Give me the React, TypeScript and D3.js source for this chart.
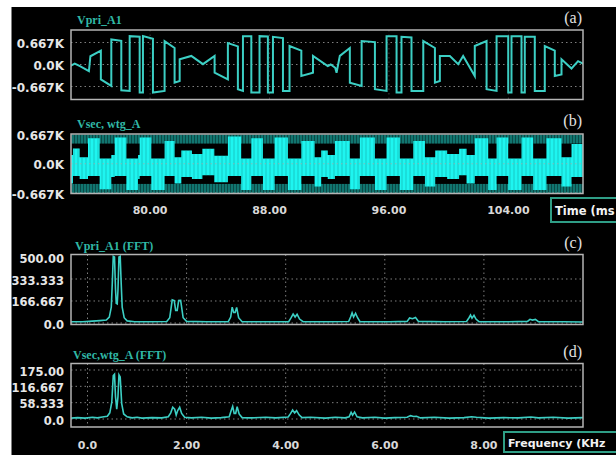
import * as d3 from "d3";

// ---- axis ticks ----
const timeTicks = [80, 88, 96, 104];
const timeTickLabels = ["80.00", "88.00", "96.00", "104.00"];
const freqTicks = [0, 2, 4, 6, 8];
const freqTickLabels = ["0.0", "2.00", "4.00", "6.00", "8.00"];
const voltTicks = [0.667, 0, -0.667];
const voltTickLabels = ["0.667K", "0.0K", "-0.667K"];
const fftPriTicks = [500, 333.333, 166.667, 0];
const fftPriTickLabels = ["500.00", "333.333", "166.667", "0.0"];
const fftSecTicks = [175, 116.667, 58.333, 0];
const fftSecTickLabels = ["175.00", "116.667", "58.333", "0.0"];

// ---- (a) Vpri_A1, [time ms, kV] ----
const vpriA1: [number, number][] = [
  [74.5, -0.08], [74.95, 0.03], [75.3, -0.05], [75.9, -0.2], [76.0, 0.25], [76.7, 0.42], [76.7, -0.45],
  [77.4, -0.65], [77.4, 0.76], [78.07, 0.72], [78.07, -0.78], [78.63, -0.8], [78.63, 0.86], [79.3, 0.84],
  [79.3, -0.85], [79.52, -0.85], [79.52, 0.86], [80.19, 0.78], [80.19, -0.85], [80.97, -0.8], [80.97, 0.71],
  [81.64, 0.5], [81.64, -0.55], [81.98, -0.5], [81.98, 0.16], [82.76, 0.26], [83.54, 0.01], [84.32, 0.26],
  [84.32, -0.25], [85.21, -0.45], [85.21, 0.65], [85.88, 0.55], [85.88, -0.75], [86.22, -0.8], [86.22, 0.86],
  [86.78, 0.86], [86.78, -0.85], [87.33, -0.85], [87.33, 0.86], [87.89, 0.85], [87.89, -0.85], [88.23, -0.85],
  [88.23, 0.84], [88.9, 0.8], [88.9, -0.8], [89.34, -0.8], [89.34, 0.56], [90.13, 0.42], [90.13, -0.35],
  [90.91, -0.25], [90.91, 0.26], [91.9, -0.05], [92.1, 0.0], [92.4, -0.1], [92.49, -0.25], [92.71, 0.26],
  [93.38, 0.5], [93.38, -0.55], [94.17, -0.65], [94.17, 0.71], [95.06, 0.68], [95.06, -0.75], [95.84, -0.8],
  [95.84, 0.86], [96.51, 0.86], [96.51, -0.85], [96.84, -0.85], [96.84, 0.84], [97.51, 0.82], [97.51, -0.8],
  [98.3, -0.8], [98.3, 0.71], [99.08, 0.5], [99.08, -0.55], [99.41, -0.5], [99.41, 0.26], [100.08, 0.26],
  [100.64, 0.01], [100.97, 0.26], [101.75, -0.35], [101.75, 0.56], [102.54, 0.71], [102.54, -0.75],
  [103.21, -0.8], [103.21, 0.86], [103.99, 0.86], [103.99, -0.85], [104.21, -0.85], [104.21, 0.86],
  [104.88, 0.86], [104.88, -0.85], [105.1, -0.85], [105.1, 0.84], [105.77, 0.84], [105.77, -0.8],
  [106.44, -0.8], [106.44, 0.56], [107.11, 0.42], [107.11, -0.35], [107.56, -0.3], [107.56, 0.16],
  [108.23, -0.12], [108.67, 0.1], [109.12, 0.0],
];

// ---- (b) Vsec, wtg_A envelope (step edges in ms, top / bottom in kV) ----
const vsecEdges = [
  74.5, 74.83, 75.28, 75.84, 76.62, 77.4, 77.63, 78.41, 79.19, 79.3, 80.08, 80.97, 81.64, 82.09, 82.8,
  83.5, 84.3, 85.21, 86.1, 86.78, 87.56, 88.34, 89.23, 90.13, 91.02, 91.46, 91.9, 92.38, 93.38, 94.05,
  95.06, 95.84, 96.73, 97.63, 98.41, 99.1, 99.9, 100.7, 101.2, 101.75, 102.65, 103.21, 103.99, 104.88,
  105.66, 106.55, 107.56, 108.23, 109.12,
];
const vsecTop = [
  0.2, 0.35, 0.15, 0.58, 0.12, 0.2, 0.6, 0.12, 0.2, 0.6, 0.12, 0.52, 0.15, 0.3, 0.22,
  0.34, 0.18, 0.62, 0.12, 0.58, 0.12, 0.6, 0.12, 0.52, 0.15, 0.3, 0.2, 0.52, 0.12, 0.6,
  0.12, 0.6, 0.12, 0.52, 0.15, 0.3, 0.22, 0.34, 0.2, 0.58, 0.12, 0.6, 0.12, 0.6,
  0.12, 0.58, 0.15, 0.45, 0.45,
];
const vsecBottom = [
  -0.45, -0.28, -0.35, -0.28, -0.58, -0.3, -0.28, -0.6, -0.35, -0.28, -0.6, -0.28, -0.45, -0.3, -0.35,
  -0.26, -0.42, -0.28, -0.6, -0.28, -0.6, -0.28, -0.6, -0.28, -0.52, -0.3, -0.35, -0.28, -0.58, -0.28,
  -0.6, -0.28, -0.6, -0.28, -0.52, -0.3, -0.35, -0.26, -0.45, -0.28, -0.6, -0.28, -0.6, -0.28,
  -0.6, -0.28, -0.52, -0.3, -0.3,
];

// ---- (c) Vpri_A1 (FFT), [kHz, magnitude] ----
const fftPri: [number, number][] = [
  [-0.34, 9], [-0.1, 10], [0.1, 14], [0.25, 18], [0.38, 22], [0.44, 45], [0.48, 120], [0.5, 300],
  [0.52, 505], [0.545, 500], [0.565, 260], [0.58, 150], [0.6, 145], [0.615, 250], [0.635, 500],
  [0.66, 505], [0.68, 300], [0.7, 120], [0.74, 40], [0.8, 16], [0.95, 10], [1.3, 9], [1.6, 11],
  [1.66, 40], [1.71, 175], [1.75, 170], [1.78, 95], [1.81, 95], [1.84, 170], [1.88, 172], [1.93, 40],
  [2.0, 12], [2.4, 9], [2.84, 10], [2.89, 45], [2.92, 120], [2.95, 80], [2.98, 80], [3.01, 118],
  [3.05, 40], [3.12, 10], [3.6, 9], [4.06, 10], [4.11, 40], [4.15, 68], [4.19, 45], [4.23, 66],
  [4.28, 30], [4.35, 10], [4.9, 9], [5.27, 11], [5.31, 45], [5.34, 76], [5.37, 45], [5.41, 74],
  [5.45, 40], [5.5, 10], [6.1, 9], [6.45, 12], [6.5, 38], [6.56, 32], [6.62, 42], [6.68, 12], [7.2, 9],
  [7.65, 11], [7.7, 40], [7.73, 60], [7.76, 36], [7.8, 58], [7.84, 30], [7.9, 10], [8.5, 9], [8.88, 12],
  [8.93, 28], [8.98, 22], [9.04, 27], [9.1, 10], [9.6, 9], [10.0, 8],
];

// ---- (d) Vsec,wtg_A (FFT), [kHz, magnitude] ----
const fftSec: [number, number][] = [
  [-0.34, 3], [-0.2, 5], [-0.05, 3], [0.1, 6], [0.2, 4], [0.3, 7], [0.4, 10], [0.45, 22], [0.49, 60],
  [0.52, 155], [0.545, 160], [0.565, 80], [0.59, 35], [0.615, 80], [0.635, 158], [0.66, 150], [0.69, 55],
  [0.73, 18], [0.8, 8], [0.9, 4], [1.0, 6], [1.1, 3], [1.3, 5], [1.5, 4], [1.63, 8], [1.68, 22],
  [1.72, 42], [1.76, 35], [1.79, 14], [1.82, 30], [1.86, 42], [1.9, 20], [1.96, 6], [2.1, 4], [2.3, 6],
  [2.5, 3], [2.7, 5], [2.86, 8], [2.9, 30], [2.93, 45], [2.96, 20], [2.99, 20], [3.02, 44], [3.06, 18],
  [3.12, 5], [3.3, 4], [3.6, 6], [3.8, 4], [4.05, 7], [4.1, 20], [4.14, 32], [4.18, 22], [4.22, 30],
  [4.27, 15], [4.33, 5], [4.5, 6], [4.8, 3], [5.0, 6], [5.2, 4], [5.28, 8], [5.32, 24], [5.35, 14],
  [5.39, 25], [5.44, 8], [5.55, 4], [5.8, 6], [6.0, 3], [6.2, 5], [6.45, 6], [6.52, 12], [6.58, 9],
  [6.64, 10], [6.72, 4], [7.0, 6], [7.3, 3], [7.6, 5], [7.75, 8], [7.85, 6], [8.1, 3], [8.4, 5],
  [8.7, 4], [8.95, 7], [9.1, 4], [9.4, 6], [9.7, 3], [10.0, 5],
];

// ---- layout ----
const W = 616;
const H = 455;
const X0 = 71;
const X1 = 583;

const xTime = d3.scaleLinear().domain([74.7, 109.0]).range([X0, X1]);
const xFreq = d3.scaleLinear().domain([-0.333, 10.0]).range([X0, X1]);

const yA = d3.scaleLinear().domain([-0.667, 0.667]).range([86.5, 42.5]);
const yB = d3.scaleLinear().domain([-0.667, 0.667]).range([193, 134.5]);
const yC = d3.scaleLinear().domain([0, 500]).range([323, 257]);
const yD = d3.scaleLinear().domain([0, 175]).range([419, 370]);

const frames = [
  { id: "a", top: 30, bottom: 99.5 },
  { id: "b", top: 134, bottom: 193.5 },
  { id: "c", top: 254.5, bottom: 324.5 },
  { id: "d", top: 363.5, bottom: 427 },
];

const FRAME = "#b4b4b4";
const GRID = "#a8a8a8";
const TRACE = "#3ccfc4";
const CYAN = "#1ef5f0";
const TITLE = "#30b8a6";
const LABEL = "#e6e6e6";
const labelFont = "'DejaVu Sans', sans-serif";
const titleFont = "'Liberation Serif', serif";

const YLabels = ({ ticks, labels, y, size }: { ticks: number[]; labels: string[]; y: (v: number) => number; size: number }) => (
  <g fontFamily={labelFont} fontWeight="bold" fontSize={size} fill={LABEL} textAnchor="end">
    {ticks.map((t, i) => (
      <text key={i} x={64} y={y(t) + 1.5} dominantBaseline="central">
        {labels[i]}
      </text>
    ))}
  </g>
);

const HGrid = ({ ticks, y, top }: { ticks: number[]; y: (v: number) => number; top: number }) => (
  <g stroke={GRID} strokeWidth={1} strokeDasharray="1.5 3" opacity={0.75}>
    {ticks
      .filter((t) => Math.abs(y(t) - top) > 3)
      .map((t, i) => (
        <line key={i} x1={X0} x2={X1} y1={y(t)} y2={y(t)} />
      ))}
  </g>
);

const VGrid = ({ ticks, x, top, bottom, opacity }: { ticks: number[]; x: (v: number) => number; top: number; bottom: number; opacity: number }) => (
  <g stroke={GRID} strokeWidth={1} strokeDasharray="1.5 3" opacity={opacity}>
    {ticks.map((t, i) => (
      <line key={i} x1={x(t)} x2={x(t)} y1={top} y2={bottom} />
    ))}
  </g>
);

export default function App() {
  const lineA = d3
    .line<[number, number]>()
    .x((d) => xTime(d[0]))
    .y((d) => yA(d[1]));

  const areaB = d3
    .area<number>()
    .x((t) => xTime(t))
    .y0((_, i) => yB(vsecBottom[i]))
    .y1((_, i) => yB(vsecTop[i]))
    .curve(d3.curveStepAfter);

  const lineC = d3
    .line<[number, number]>()
    .x((d) => xFreq(d[0]))
    .y((d) => yC(d[1]));

  const lineD = d3
    .line<[number, number]>()
    .x((d) => xFreq(d[0]))
    .y((d) => yD(d[1]));

  const [fa, fb, fc, fd] = frames;

  return (
    <svg
      width={W}
      height={H}
      viewBox={`0 0 ${W} ${H}`}
      style={{ position: "absolute", left: 0, top: 0, display: "block" }}
    >
      <defs>
        {frames.map((f) => (
          <clipPath key={f.id} id={`clip-${f.id}`}>
            <rect x={X0} y={f.top} width={X1 - X0} height={f.bottom - f.top} />
          </clipPath>
        ))}
        <pattern id="hair" width={3} height={6} patternUnits="userSpaceOnUse">
          <rect width={3} height={6} fill="#0a4a47" />
          <line x1={1} x2={1} y1={0} y2={6} stroke="#1aa9a2" strokeWidth={0.9} />
        </pattern>
        <pattern id="streak" width={4} height={6} patternUnits="userSpaceOnUse">
          <line x1={2} x2={2} y1={0} y2={6} stroke="#0c8f8a" strokeWidth={0.8} opacity={0.55} />
        </pattern>
      </defs>

      <rect width={W} height={H} fill="#ffffff" />
      <rect x={11.5} y={7} width={W - 11.5} height={H - 7} fill="#000000" />

      {/* (a) */}
      <VGrid ticks={timeTicks} x={xTime} top={fa.top} bottom={fa.bottom} opacity={0.35} />
      <HGrid ticks={voltTicks} y={yA} top={fa.top} />
      <path d={lineA(vpriA1) ?? ""} fill="none" stroke={TRACE} strokeWidth={2} clipPath="url(#clip-a)" />
      <YLabels ticks={voltTicks} labels={voltTickLabels} y={yA} size={12} />

      {/* (b) */}
      <g clipPath="url(#clip-b)">
        <rect x={X0} y={yB(0.667)} width={X1 - X0} height={yB(0.46) - yB(0.667)} fill="url(#hair)" />
        <rect x={X0} y={yB(-0.46)} width={X1 - X0} height={yB(-0.667) - yB(-0.46)} fill="url(#hair)" />
        <path d={areaB(vsecEdges) ?? ""} fill={CYAN} />
        <path d={areaB(vsecEdges) ?? ""} fill="url(#streak)" />
      </g>
      <HGrid ticks={voltTicks} y={yB} top={fb.top} />
      <YLabels ticks={voltTicks} labels={voltTickLabels} y={yB} size={12} />
      <g fontFamily={labelFont} fontWeight="bold" fontSize={11} fill="#d8d8d8" textAnchor="middle">
        {timeTicks.map((t, i) => (
          <text key={i} x={xTime(t)} y={214}>
            {timeTickLabels[i]}
          </text>
        ))}
      </g>
      <rect x={551} y={198} width={80} height={24} fill="#000" stroke="#2f9e86" strokeWidth={2} />
      <text x={555} y={215} fontFamily={labelFont} fontWeight="bold" fontSize={11.5} fill="#f2f2f2">
        Time (ms
      </text>

      {/* (c) */}
      <VGrid ticks={freqTicks} x={xFreq} top={fc.top} bottom={fc.bottom} opacity={0.75} />
      <HGrid ticks={fftPriTicks} y={yC} top={fc.top} />
      <path d={lineC(fftPri) ?? ""} fill="none" stroke={TRACE} strokeWidth={1.6} clipPath="url(#clip-c)" />
      <YLabels ticks={fftPriTicks} labels={fftPriTickLabels} y={yC} size={11.5} />

      {/* (d) */}
      <VGrid ticks={freqTicks} x={xFreq} top={fd.top} bottom={fd.bottom} opacity={0.75} />
      <HGrid ticks={fftSecTicks} y={yD} top={fd.top} />
      <path d={lineD(fftSec) ?? ""} fill="none" stroke={TRACE} strokeWidth={1.6} clipPath="url(#clip-d)" />
      <YLabels ticks={fftSecTicks} labels={fftSecTickLabels} y={yD} size={11.5} />
      <g fontFamily={labelFont} fontWeight="bold" fontSize={11} fill="#d8d8d8" textAnchor="middle">
        {freqTicks.map((t, i) => (
          <text key={i} x={xFreq(t)} y={449}>
            {freqTickLabels[i]}
          </text>
        ))}
      </g>
      <rect x={504} y={432} width={130} height={20} fill="#000" stroke="#2f9e86" strokeWidth={2} />
      <text x={508} y={446.5} fontFamily={labelFont} fontWeight="bold" fontSize={11} fill="#f2f2f2">
        Frequency (KHz
      </text>

      {/* frames */}
      {frames.map((f) => (
        <rect
          key={f.id}
          x={X0}
          y={f.top}
          width={X1 - X0}
          height={f.bottom - f.top}
          fill="none"
          stroke={FRAME}
          strokeWidth={1.5}
        />
      ))}

      {/* titles */}
      <g fontFamily={titleFont} fontWeight="bold" fontSize={12} fill={TITLE}>
        <text x={77} y={24}>Vpri_A1</text>
        <text x={77} y={128}>Vsec, wtg_A</text>
        <text x={75} y={250}>Vpri_A1 (FFT)</text>
        <text x={73} y={359}>Vsec,wtg_A (FFT)</text>
      </g>
      <g fontFamily={titleFont} fontSize={16} fill="#e2e2e2" textAnchor="end">
        <text x={582} y={23}>(a)</text>
        <text x={582} y={126}>(b)</text>
        <text x={582} y={248}>(c)</text>
        <text x={582} y={357}>(d)</text>
      </g>
    </svg>
  );
}
